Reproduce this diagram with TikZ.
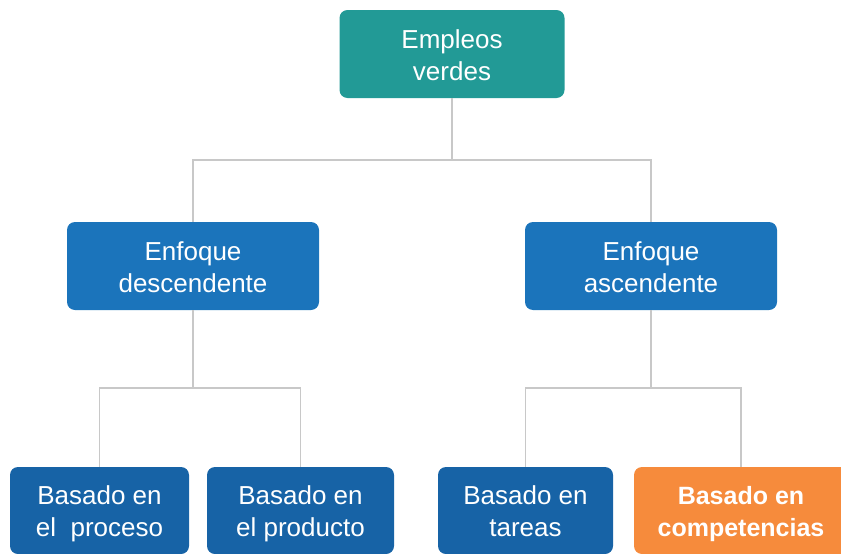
\documentclass[tikz,border=0pt]{standalone}
\usepackage{fontspec}
\setmainfont{Liberation Sans}
\usepackage{tikz}
\usetikzlibrary{positioning}

\definecolor{tealbox}{HTML}{229A96}
\definecolor{midblue}{HTML}{1B74BB}
\definecolor{lowblue}{HTML}{1763A6}
\definecolor{orangebox}{HTML}{F68B3C}
\definecolor{linkgray}{HTML}{C8C8C8}

% two lines of box text with a fixed height and depth
\newcommand{\twolines}[2]{\rule{0pt}{25pt}#1\\#2\rule[-5pt]{0pt}{5pt}}

\tikzset{
  box/.style={rounded corners=8pt, text=white, align=center, inner sep=0pt,
    font=\fontsize{26}{32}\selectfont, minimum height=88pt},
  link/.style={draw=linkgray, line width=1.6pt}
}

\begin{document}
\begin{tikzpicture}[x=1pt, y=-1pt]
    \useasboundingbox (0,0) rectangle (841,554);

    % Top node (Empleos verdes)
    \node[box, fill=tealbox, minimum width=225pt] (emp) at (452,54) {\twolines{Empleos}{verdes}};

    % Middle level (the two approaches)
    \node[box, fill=midblue, minimum width=252pt] (desc) at (193,266) {\twolines{Enfoque}{descendente}};
    \node[box, fill=midblue, minimum width=252pt] (asc) at (651,266) {\twolines{Enfoque}{ascendente}};

    % Bottom level
    \node[box, fill=lowblue, minimum width=179pt, minimum height=87pt] (proc) at (99.5,510.5) {\twolines{Basado en}{el~~proceso}};
    \node[box, fill=lowblue, minimum width=187pt, minimum height=87pt] (prod) at (300.5,510.5) {\twolines{Basado en}{el producto}};
    \node[box, fill=lowblue, minimum width=175pt, minimum height=87pt] (tar) at (525.5,510.5) {\twolines{Basado en}{tareas}};
    \node[box, fill=orangebox, minimum width=214pt, minimum height=87pt,
      font=\fontsize{25}{32}\selectfont\bfseries] (comp) at (741,510.5) {\twolines{Basado en}{competencias}};

    % Junction points of the connectors
    \coordinate (j1) at (452,160);
    \coordinate (j2) at (193,388);
    \coordinate (j3) at (651,388);

    % Connectors
    \draw[link] (emp.south) -- (j1) -| (desc.north);
    \draw[link] (j1) -| (asc.north);
    \draw[link] (desc.south) -- (j2) -| (proc.north);
    \draw[link] (j2) -| (prod.north);
    \draw[link] (asc.south) -- (j3) -| (tar.north);
    \draw[link] (j3) -| (comp.north);

  \end{tikzpicture}
\end{document}
